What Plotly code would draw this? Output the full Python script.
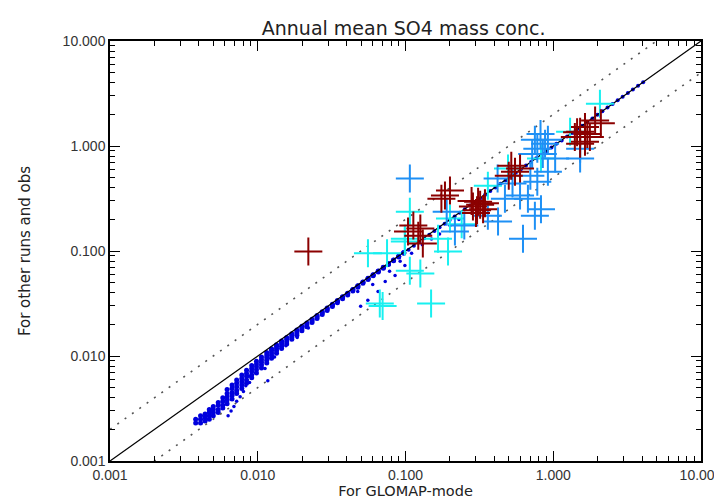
import plotly.graph_objects as go

# Axis range
axis_lo = 0.001
axis_hi = 10.0

# Model grid points (small blue dots): dense band at low concentrations
band_x = [0.0038, 0.0038,
          0.0041, 0.0041, 0.0041,
          0.0044, 0.0044, 0.0044,
          0.0047, 0.0047, 0.0047, 0.0047,
          0.0050, 0.0050, 0.0050, 0.0050,
          0.0054, 0.0054, 0.0054, 0.0054,
          0.0058, 0.0058, 0.0058, 0.0058,
          0.0062, 0.0062, 0.0062, 0.0062, 0.0062,
          0.0067, 0.0067, 0.0067, 0.0067, 0.0067,
          0.0072, 0.0072, 0.0072, 0.0072, 0.0072,
          0.0078, 0.0078, 0.0078, 0.0078, 0.0078,
          0.0084, 0.0084, 0.0084, 0.0084, 0.0084,
          0.0091, 0.0091, 0.0091, 0.0091, 0.0091,
          0.0098, 0.0098, 0.0098, 0.0098, 0.0098,
          0.0106, 0.0106, 0.0106, 0.0106, 0.0106,
          0.0115, 0.0115, 0.0115, 0.0115, 0.0115,
          0.0124, 0.0124, 0.0124, 0.0124, 0.0124,
          0.0134, 0.0134, 0.0134, 0.0134, 0.0134,
          0.0145, 0.0145, 0.0145, 0.0145, 0.0145,
          0.0157, 0.0157, 0.0157, 0.0157,
          0.0170, 0.0170, 0.0170, 0.0170,
          0.0184, 0.0184, 0.0184, 0.0184,
          0.0199, 0.0199, 0.0199, 0.0199,
          0.0215, 0.0215, 0.0215,
          0.0233, 0.0233, 0.0233,
          0.0252, 0.0252, 0.0252,
          0.0273, 0.0273, 0.0273,
          0.0295, 0.0295, 0.0295,
          0.0320, 0.0320, 0.0320,
          0.0346, 0.0346, 0.0346,
          0.0375, 0.0375, 0.0375,
          0.0406, 0.0406, 0.0406,
          0.0440, 0.0440, 0.0440,
          0.0476, 0.0476, 0.0476,
          0.0515, 0.0515, 0.0515,
          0.0558, 0.0558, 0.0558,
          0.0604, 0.0604, 0.0604,
          0.0654, 0.0654, 0.0654,
          0.0708, 0.0708, 0.0708,
          0.0767, 0.0767, 0.0767,
          0.0830, 0.0830, 0.0830,
          0.0899, 0.0899, 0.0899,
          0.0973, 0.0973, 0.0973]
band_y = [0.0023, 0.0025,
          0.0023, 0.0025, 0.0027,
          0.0024, 0.0026, 0.0028,
          0.0025, 0.0027, 0.0029, 0.0031,
          0.0027, 0.0029, 0.0031, 0.0033,
          0.0029, 0.0031, 0.0034, 0.0036,
          0.0032, 0.0034, 0.0037, 0.0040,
          0.0035, 0.0038, 0.0041, 0.0044, 0.0048,
          0.0039, 0.0042, 0.0045, 0.0049, 0.0053,
          0.0044, 0.0047, 0.0051, 0.0055, 0.0059,
          0.0049, 0.0053, 0.0057, 0.0061, 0.0066,
          0.0055, 0.0059, 0.0064, 0.0068, 0.0073,
          0.0062, 0.0066, 0.0071, 0.0076, 0.0081,
          0.0069, 0.0074, 0.0079, 0.0084, 0.0089,
          0.0077, 0.0082, 0.0087, 0.0092, 0.0098,
          0.0086, 0.0091, 0.0097, 0.0102, 0.0108,
          0.0095, 0.0101, 0.0107, 0.0113, 0.0117,
          0.0106, 0.0112, 0.0118, 0.0124, 0.0128,
          0.0118, 0.0124, 0.0130, 0.0136, 0.0139,
          0.0130, 0.0137, 0.0144, 0.0150,
          0.0144, 0.0151, 0.0158, 0.0163,
          0.0158, 0.0166, 0.0173, 0.0177,
          0.0174, 0.0182, 0.0190, 0.0192,
          0.0190, 0.0199, 0.0206,
          0.0208, 0.0217, 0.0224,
          0.0228, 0.0237, 0.0243,
          0.0249, 0.0258, 0.0264,
          0.0271, 0.0281, 0.0287,
          0.0296, 0.0306, 0.0311,
          0.0322, 0.0333, 0.0337,
          0.0351, 0.0362, 0.0366,
          0.0382, 0.0393, 0.0397,
          0.0416, 0.0427, 0.0431,
          0.0452, 0.0464, 0.0467,
          0.0492, 0.0503, 0.0506,
          0.0535, 0.0546, 0.0549,
          0.0581, 0.0592, 0.0595,
          0.0631, 0.0642, 0.0645,
          0.0685, 0.0696, 0.0699,
          0.0744, 0.0755, 0.0758,
          0.0808, 0.0818, 0.0821,
          0.0877, 0.0887, 0.0890,
          0.0952, 0.0962, 0.0965]

# Model points hugging the 1:1 line at higher concentrations
line_pts_x = [0.105, 0.114, 0.124, 0.134, 0.145, 0.157, 0.170, 0.184, 0.199, 0.215,
              0.233, 0.252, 0.273, 0.295, 0.320, 0.346, 0.375, 0.406, 0.440, 0.476,
              0.515, 0.558, 0.604, 0.654, 0.708, 0.767, 0.830, 0.899, 0.973, 1.05,
              1.14, 1.24, 1.34, 1.45, 1.57, 1.70, 1.84, 1.99, 2.15, 2.33,
              2.52, 2.73, 2.95, 3.20, 3.46, 3.75, 4.06]
line_pts_y = [0.103, 0.112, 0.122, 0.132, 0.143, 0.155, 0.168, 0.182, 0.197, 0.213,
              0.231, 0.250, 0.271, 0.292, 0.317, 0.343, 0.372, 0.403, 0.437, 0.473,
              0.512, 0.555, 0.601, 0.651, 0.705, 0.764, 0.827, 0.896, 0.970, 1.05,
              1.13, 1.23, 1.33, 1.44, 1.56, 1.69, 1.83, 1.98, 2.14, 2.32,
              2.51, 2.72, 2.94, 3.19, 3.45, 3.74, 4.05]

# Scattered model points below the band
stray_x = [0.0063, 0.0066, 0.0069, 0.0072, 0.0076, 0.0080, 0.0083, 0.0088,
           0.0097, 0.0112, 0.0117, 0.0087, 0.0130, 0.0155, 0.0185, 0.0220,
           0.0652, 0.0556, 0.0729, 0.0850, 0.0990, 0.0497, 0.0475, 0.0600, 0.0780,
           0.0920, 0.1100, 0.1300, 0.1500, 0.1700, 0.2000, 0.2300]
stray_y = [0.0027, 0.0030, 0.0033, 0.0037, 0.0041, 0.0046, 0.0052, 0.0056,
           0.0069, 0.0076, 0.0058, 0.0064, 0.0098, 0.0125, 0.0150, 0.0185,
           0.0412, 0.0339, 0.0513, 0.0585, 0.0729, 0.0297, 0.0412, 0.0480, 0.0640,
           0.0800, 0.0950, 0.1150, 0.1300, 0.1450, 0.1750, 0.2000]

# Observations / other runs (crosses)
red_x = [0.022, 0.113, 0.126, 0.122, 0.104, 0.131, 0.185, 0.200, 0.175,
         0.286, 0.310, 0.335, 0.300, 0.320, 0.280, 0.345, 0.305,
         0.551, 0.596, 0.520, 0.500,
         1.40, 1.52, 1.64, 1.77, 1.64, 1.92, 2.10, 1.52, 1.45, 1.70]
red_y = [0.099, 0.175, 0.164, 0.140, 0.153, 0.118, 0.337, 0.376, 0.315,
         0.265, 0.295, 0.250, 0.230, 0.275, 0.300, 0.285, 0.245,
         0.570, 0.610, 0.650, 0.520,
         1.22, 1.37, 1.10, 1.22, 1.52, 1.75, 1.65, 1.05, 1.35, 1.30]

cyan_x = [2.07, 1.30, 0.361, 0.494, 0.826, 0.107, 0.099, 0.107, 0.126, 0.194,
          0.166, 0.200, 0.0557, 0.075, 0.067, 0.070, 0.149, 0.099, 0.240]
cyan_y = [2.52, 1.37, 0.419, 0.610, 0.760, 0.237, 0.131, 0.065, 0.061, 0.099,
          0.131, 0.204, 0.095, 0.095, 0.0317, 0.030, 0.0317, 0.123, 0.180]

blue_x = [0.107, 0.624, 0.751, 0.826, 0.674, 0.596, 0.751, 0.820, 0.880, 0.780,
          0.920, 0.850, 0.720, 1.03, 0.920, 0.780, 0.700, 1.52, 1.52, 0.423,
          0.361, 0.471, 0.250, 0.216, 0.190, 0.530, 0.420]
blue_y = [0.490, 0.131, 0.217, 0.250, 0.315, 0.337, 1.15, 1.30, 1.05, 0.94,
          1.15, 0.84, 0.84, 0.76, 0.57, 0.457, 0.52, 0.94, 0.76, 0.191,
          0.217, 0.315, 0.175, 0.153, 0.237, 0.440, 0.490]

font = "DejaVu Sans, Liberation Sans, Arial"
tick_font = "Liberation Sans, Arial"

fig = go.Figure()

# model points
for xs, ys, sz in [(band_x, band_y, 5), (line_pts_x, line_pts_y, 4), (stray_x, stray_y, 3.5)]:
    fig.add_trace(go.Scatter(x=xs, y=ys, mode="markers",
                             marker=dict(color="#0000dd", size=sz, line=dict(width=0)),
                             showlegend=False))

# 1:1 and factor-of-2 lines
line_x = [axis_lo, axis_hi]
fig.add_trace(go.Scatter(x=line_x, y=line_x, mode="lines",
                         line=dict(color="black", width=1.2), showlegend=False))
fig.add_trace(go.Scatter(x=line_x, y=[v * 2 for v in line_x], mode="lines",
                         line=dict(color="#555555", width=1.6, dash="2px,7px"),
                         showlegend=False))
fig.add_trace(go.Scatter(x=line_x, y=[v / 2 for v in line_x], mode="lines",
                         line=dict(color="#555555", width=1.6, dash="2px,7px"),
                         showlegend=False))

# crosses
for xs, ys, col in [(cyan_x, cyan_y, "#18f0f0"),
                    (blue_x, blue_y, "#1e90f5"),
                    (red_x, red_y, "#8b0000")]:
    fig.add_trace(go.Scatter(x=xs, y=ys, mode="markers",
                             marker=dict(symbol="cross-thin", size=20,
                                         line=dict(color=col, width=2)),
                             showlegend=False))

axis_style = dict(type="log", range=[-3, 1], dtick=1, tickformat=".3f",
                  showgrid=False, zeroline=False, showline=True, automargin=False,
                  linecolor="black", linewidth=1.5, mirror="allticks",
                  ticks="inside", ticklen=10, tickwidth=1.2, tickcolor="black",
                  minor=dict(ticks="inside", ticklen=5, tickwidth=1, tickcolor="black"),
                  tickfont=dict(family=tick_font, size=14, color="#333333"))

fig.update_layout(
    width=722, height=500,
    margin=dict(l=102, r=29, t=33, b=47),
    paper_bgcolor="white", plot_bgcolor="white",
    title=dict(text="Annual mean SO4 mass conc.", x=0.548, xanchor="center",
               y=0.96, yanchor="middle",
               font=dict(family=font, size=19, color="#222222")),
    xaxis=dict(axis_style, title=dict(text="For GLOMAP-mode", standoff=0,
                                      font=dict(family=font, size=14.5, color="#222222"))),
    yaxis=dict(axis_style, title=dict(text="For other runs and obs", standoff=28,
                                      font=dict(family=font, size=15, color="#222222"))),
)

fig.write_html("out.html")
